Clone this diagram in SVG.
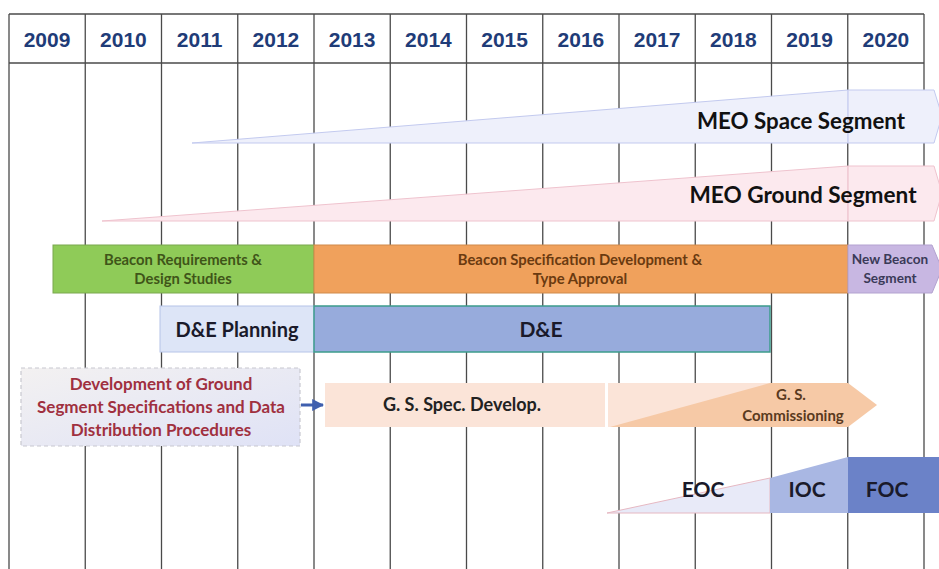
<svg xmlns="http://www.w3.org/2000/svg" width="939" height="569" viewBox="0 0 939 569">
  <defs>
    <linearGradient id="devFill" x1="0" y1="0" x2="1" y2="1">
      <stop offset="0" stop-color="#f3f1f1"/>
      <stop offset="1" stop-color="#dfe2f6"/>
    </linearGradient>
    <marker id="arrowHead" viewBox="0 0 10 10" refX="9" refY="5" markerWidth="4" markerHeight="4" orient="auto">
      <path d="M0,0 L10,5 L0,10 z" fill="#3f5fae"/>
    </marker>
    <style>
      .grid { stroke: #4a4a4a; stroke-width: 1.3; fill: none; }
      .year { font-family: "Liberation Sans", Arial, sans-serif; font-weight: bold; font-size: 21px; fill: #1f3c78; text-anchor: middle; }
      .lbl { font-family: Lato, "Open Sans", sans-serif; font-weight: bold; text-anchor: middle; }
      .seam { stroke-width: 0.8; }
    </style>
  </defs>

  <rect width="939" height="569" fill="#ffffff"/>

  <!-- timeline grid -->
  <g id="grid">
    <line class="grid" x1="9" y1="14" x2="924" y2="14"/>
    <line class="grid" x1="9" y1="63" x2="924" y2="63"/>
    <line class="grid" x1="9" y1="14" x2="9" y2="569"/>
    <line class="grid" x1="85.25" y1="14" x2="85.25" y2="569"/>
    <line class="grid" x1="161.5" y1="14" x2="161.5" y2="569"/>
    <line class="grid" x1="237.75" y1="14" x2="237.75" y2="569"/>
    <line class="grid" x1="314" y1="14" x2="314" y2="569"/>
    <line class="grid" x1="390.25" y1="14" x2="390.25" y2="569"/>
    <line class="grid" x1="466.5" y1="14" x2="466.5" y2="569"/>
    <line class="grid" x1="542.75" y1="14" x2="542.75" y2="569"/>
    <line class="grid" x1="619" y1="14" x2="619" y2="569"/>
    <line class="grid" x1="695.25" y1="14" x2="695.25" y2="569"/>
    <line class="grid" x1="771.5" y1="14" x2="771.5" y2="569"/>
    <line class="grid" x1="847.75" y1="14" x2="847.75" y2="569"/>
    <line class="grid" x1="924" y1="14" x2="924" y2="569"/>
  </g>

  <g id="years">
    <text class="year" x="47" y="47">2009</text>
    <text class="year" x="123.4" y="47">2010</text>
    <text class="year" x="199.6" y="47">2011</text>
    <text class="year" x="275.9" y="47">2012</text>
    <text class="year" x="352.1" y="47">2013</text>
    <text class="year" x="428.4" y="47">2014</text>
    <text class="year" x="504.6" y="47">2015</text>
    <text class="year" x="580.9" y="47">2016</text>
    <text class="year" x="657.1" y="47">2017</text>
    <text class="year" x="733.4" y="47">2018</text>
    <text class="year" x="809.6" y="47">2019</text>
    <text class="year" x="885.9" y="47">2020</text>
  </g>

  <!-- MEO space segment ramp -->
  <g id="meo-space">
    <polygon points="192,143 848,90 848,143" fill="#eef0fb" stroke="#c3caef" stroke-width="1"/>
    <polygon points="848,90 934,90 942,116 934,143 848,143" fill="#eef0fb" stroke="#c3caef" stroke-width="1"/>
    <line class="seam" x1="848" y1="90" x2="848" y2="143" stroke="#d2d6f2"/>
    <text class="lbl" x="801" y="129" font-size="22.3" fill="#111111">MEO Space Segment</text>
  </g>

  <!-- MEO ground segment ramp -->
  <g id="meo-ground">
    <polygon points="102,221 848,166 848,221" fill="#fce9ee" stroke="#efc3ce" stroke-width="1"/>
    <polygon points="848,166 934,166 942,193 934,221 848,221" fill="#fce9ee" stroke="#efc3ce" stroke-width="1"/>
    <line class="seam" x1="848" y1="166" x2="848" y2="221" stroke="#f0cdd6"/>
    <text class="lbl" x="803" y="203" font-size="22.6" fill="#111111">MEO Ground Segment</text>
  </g>

  <!-- beacon row -->
  <g id="beacon-requirements">
    <rect x="53" y="245" width="261" height="48" fill="#8fcb58" stroke="#7aa84e" stroke-width="1"/>
    <text class="lbl" x="183" y="265" font-size="14.8" fill="#3f5519">Beacon Requirements &amp;</text>
    <text class="lbl" x="183" y="284" font-size="14.8" fill="#3f5519">Design Studies</text>
  </g>
  <g id="beacon-specification">
    <rect x="314" y="245" width="534" height="48" fill="#f0a15c" stroke="#d08a4a" stroke-width="1"/>
    <text class="lbl" x="580" y="265" font-size="14.8" fill="#6a3a10">Beacon Specification Development &amp;</text>
    <text class="lbl" x="580" y="284" font-size="14.8" fill="#6a3a10">Type Approval</text>
  </g>
  <g id="new-beacon">
    <polygon points="848,245 932,245 942,269 932,293 848,293" fill="#c8b7e2" stroke="#b3a2d0" stroke-width="1"/>
    <text class="lbl" x="890" y="264" font-size="13.6" fill="#3a3a58">New Beacon</text>
    <text class="lbl" x="890" y="283" font-size="13.6" fill="#3a3a58">Segment</text>
  </g>

  <!-- D&E row -->
  <g id="de-planning">
    <rect x="160" y="306" width="154" height="46" fill="#dde5f7" stroke="#b6c4e8" stroke-width="1"/>
    <text class="lbl" x="237" y="337" font-size="20" fill="#1a1a2a">D&amp;E Planning</text>
  </g>
  <g id="de">
    <rect x="314" y="306" width="456" height="46" fill="#97abdc" stroke="#3c9c8c" stroke-width="1.5"/>
    <text class="lbl" x="541" y="337" font-size="21" fill="#1a1a2a">D&amp;E</text>
  </g>

  <!-- ground segment specification row -->
  <g id="gs-procedures">
    <rect x="21" y="368" width="279" height="78" fill="url(#devFill)" stroke="#c8c8d0" stroke-width="1.2" stroke-dasharray="4,3"/>
    <text class="lbl" x="161" y="390" font-size="17" fill="#a0303f">Development of Ground</text>
    <text class="lbl" x="161" y="413" font-size="17" fill="#a0303f">Segment Specifications and Data</text>
    <text class="lbl" x="161" y="436" font-size="17" fill="#a0303f">Distribution Procedures</text>
  </g>
  <g id="gs-spec">
    <rect x="325" y="383" width="280" height="44" fill="#fbe4d8"/>
    <text class="lbl" x="462" y="411" font-size="18" fill="#222222">G. S. Spec. Develop.</text>
  </g>
  <g id="gs-commissioning">
    <rect x="608" y="383" width="162" height="44" fill="#fbe4d8"/>
    <polygon points="610,427 770,383 770,427" fill="#f6c9a6"/>
    <polygon points="770,383 848,383 877,405 848,427 770,427" fill="#f6c9a6"/>
    <text class="lbl" x="791" y="400" font-size="15" fill="#5a3a20">G. S.</text>
    <text class="lbl" x="793" y="421" font-size="15" fill="#5a3a20">Commissioning</text>
  </g>

  <!-- operational capability ramp -->
  <g id="eoc">
    <polygon points="607,513 770,478 770,513" fill="#e8eaf8" stroke="#e6b8c2" stroke-width="1"/>
    <text class="lbl" x="703" y="497" font-size="21" fill="#1a1a2a">EOC</text>
  </g>
  <g id="ioc">
    <polygon points="770,478 848,457 848,513 770,513" fill="#a9b7e3"/>
    <text class="lbl" x="807" y="497" font-size="21" fill="#1a1a2a">IOC</text>
  </g>
  <g id="foc">
    <rect x="848" y="457" width="91" height="56" fill="#6b82c8"/>
    <text class="lbl" x="887" y="497" font-size="21" fill="#1a1a2a">FOC</text>
  </g>

  <!-- connectors -->
  <g id="connectors">
    <line x1="301" y1="405" x2="323" y2="405" stroke="#3f5fae" stroke-width="3" marker-end="url(#arrowHead)"/>
  </g>
</svg>
